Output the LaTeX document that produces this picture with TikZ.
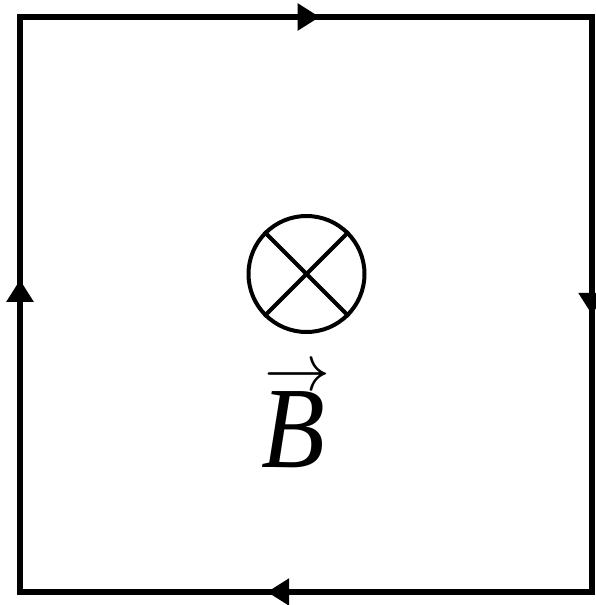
\documentclass[tikz,border=0pt]{standalone}
\usepackage{fix-cm}
\usepackage{graphicx}
\usepackage{fontspec}
\setmainfont{Liberation Serif}
\usetikzlibrary{arrows.meta,decorations.markings}
\begin{document}
\begin{tikzpicture}[x=0.5pt,y=-0.5pt]
	\tikzset{
		edge/.style={line width=2.6pt, line cap=rect},
		midarrow/.style={postaction={decorate}, decoration={markings,
			mark=at position #1 with {\arrow{Triangle[length=11pt,width=13pt]}}}},
		into/.style={circle, draw, line width=2pt, minimum size=58pt, inner sep=0pt}
	}
	\useasboundingbox (0,0) rectangle (595,605);
	% corners of the loop
	\coordinate (tl) at (20,17);
	\coordinate (tr) at (592,17);
	\coordinate (br) at (592,592);
	\coordinate (bl) at (20,592);
	\foreach \a/\b/\p in {tl/tr/0.524, tr/br/0.518, br/bl/0.568, bl/tl/0.543} {
			\draw[edge, midarrow=\p] (\a) -- (\b);
		}
	% field into the page
	\node[into] (flux) at (306.5,274) {};
	\draw[line width=2pt] (flux.north west) -- (flux.south east);
	\draw[line width=2pt] (flux.north east) -- (flux.south west);
	\node[anchor=base, inner sep=0pt] (field) at (293,467)
		{\rlap{\hspace{1.5pt}\raisebox{38.5pt}{\fontsize{33}{33}\selectfont$\rightarrow$}}%
		\scalebox{0.9}[1]{\fontsize{58}{58}\selectfont\itshape B}};
\end{tikzpicture}
\end{document}
